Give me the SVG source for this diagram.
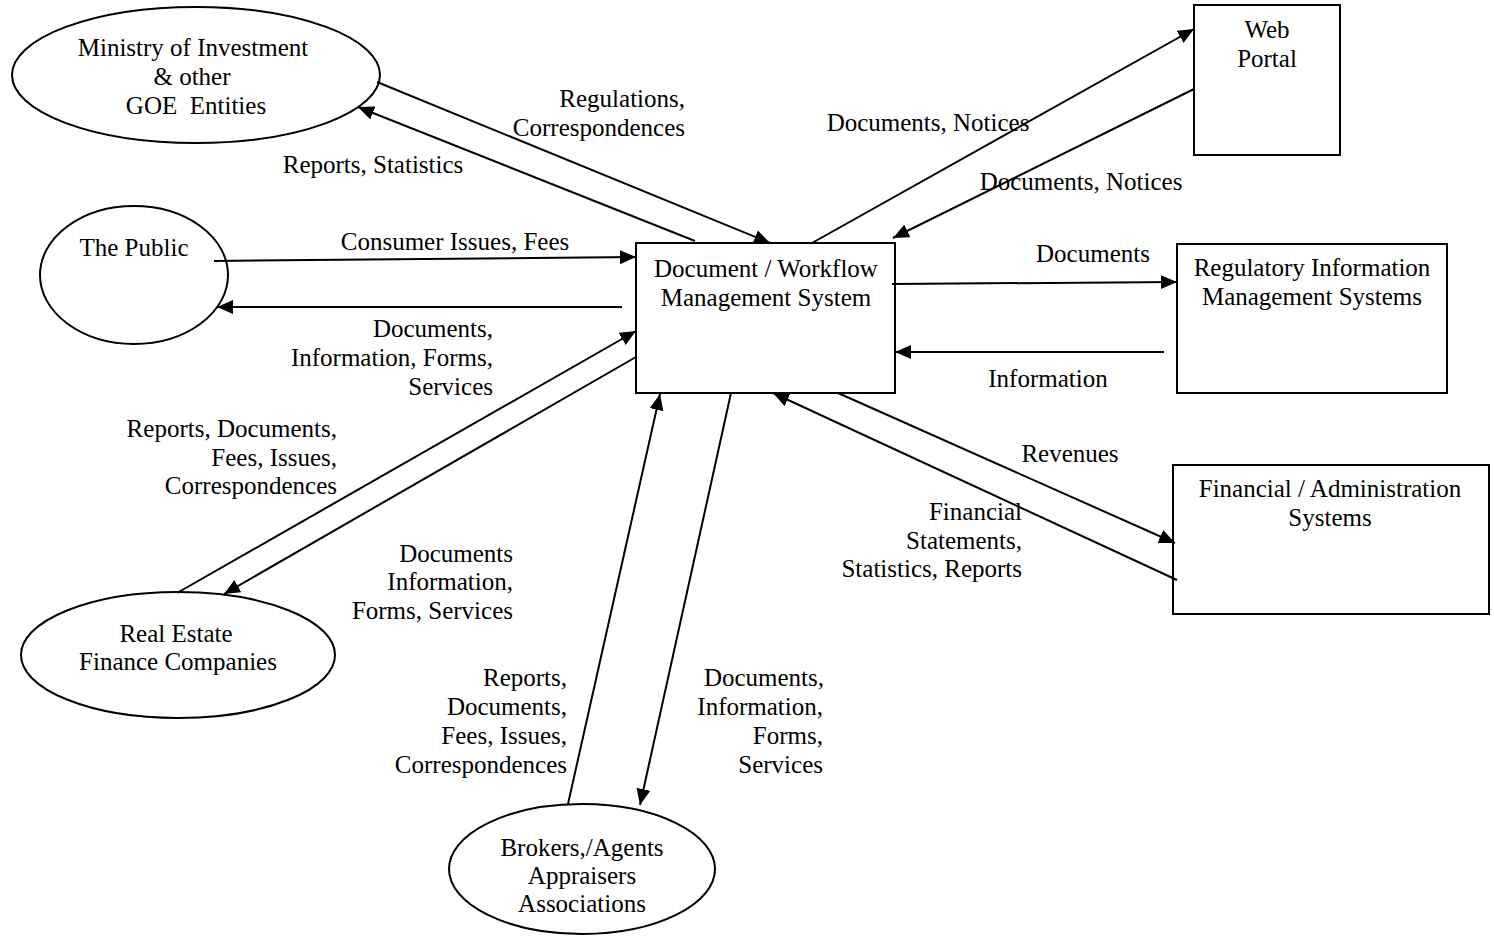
<svg xmlns="http://www.w3.org/2000/svg" width="1494" height="948" viewBox="0 0 1494 948">
  <style>
    .shape { fill: #ffffff; stroke: #000000; stroke-width: 2; }
    .flow { fill: none; stroke: #000000; stroke-width: 2; marker-end: url(#arrow); }
    text { font-family: "Liberation Serif", "Times New Roman", serif; font-size: 25px; fill: #000000; }
    .c { text-anchor: middle; }
    .r { text-anchor: end; }
  </style>
  <defs>
    <marker id="arrow" markerUnits="userSpaceOnUse" markerWidth="17" markerHeight="15" refX="16" refY="7" orient="auto">
      <path d="M0,0 L16,7 L0,14 Z" fill="#000000"/>
    </marker>
  </defs>
  <rect width="1494" height="948" fill="#ffffff"/>

  <!-- external entities and systems -->
  <g id="ministry">
    <ellipse class="shape" cx="196" cy="75" rx="184" ry="68"/>
    <text class="c" x="193" y="56">Ministry of Investment</text>
    <text class="c" x="192" y="85">&amp; other</text>
    <text class="c" x="196" y="114" xml:space="preserve">GOE  Entities</text>
  </g>
  <g id="public">
    <ellipse class="shape" cx="134" cy="275" rx="94" ry="69"/>
    <text class="c" x="134" y="256">The Public</text>
  </g>
  <g id="real-estate">
    <ellipse class="shape" cx="178" cy="655" rx="157" ry="63"/>
    <text class="c" x="176" y="642">Real Estate</text>
    <text class="c" x="178" y="670">Finance Companies</text>
  </g>
  <g id="brokers">
    <ellipse class="shape" cx="582" cy="869" rx="133" ry="65"/>
    <text class="c" x="582" y="856">Brokers,/Agents</text>
    <text class="c" x="582" y="884">Appraisers</text>
    <text class="c" x="582" y="912">Associations</text>
  </g>
  <g id="dwms">
    <rect class="shape" x="636" y="243" width="259" height="150"/>
    <text class="c" x="766" y="277">Document / Workflow</text>
    <text class="c" x="766" y="306">Management System</text>
  </g>
  <g id="web-portal">
    <rect class="shape" x="1194" y="5" width="146" height="150"/>
    <text class="c" x="1267" y="38">Web</text>
    <text class="c" x="1267" y="67">Portal</text>
  </g>
  <g id="rims">
    <rect class="shape" x="1177" y="244" width="270" height="149"/>
    <text class="c" x="1312" y="276">Regulatory Information</text>
    <text class="c" x="1312" y="305">Management Systems</text>
  </g>
  <g id="finance">
    <rect class="shape" x="1173" y="465" width="316" height="149"/>
    <text class="c" x="1330" y="497">Financial / Administration</text>
    <text class="c" x="1330" y="526">Systems</text>
  </g>

  <!-- data flows -->
  <g id="connectors">
    <line class="flow" x1="377" y1="82" x2="770" y2="243"/>
    <line class="flow" x1="695" y1="241" x2="358" y2="107"/>
    <line class="flow" x1="214" y1="261" x2="636" y2="257"/>
    <line class="flow" x1="622" y1="307" x2="217" y2="307"/>
    <line class="flow" x1="177" y1="593" x2="636" y2="331"/>
    <line class="flow" x1="636" y1="357" x2="224" y2="594"/>
    <line class="flow" x1="568" y1="804" x2="660" y2="394"/>
    <line class="flow" x1="731" y1="393" x2="640" y2="805"/>
    <line class="flow" x1="812" y1="243" x2="1194" y2="29"/>
    <line class="flow" x1="1194" y1="89" x2="893" y2="238"/>
    <line class="flow" x1="892" y1="284" x2="1177" y2="282"/>
    <line class="flow" x1="1164" y1="352" x2="895" y2="352"/>
    <line class="flow" x1="838" y1="393" x2="1175" y2="543"/>
    <line class="flow" x1="1177" y1="580" x2="773" y2="393"/>
  </g>

  <!-- flow labels -->
  <g id="labels">
    <text class="r" x="685" y="107">Regulations,</text>
    <text class="r" x="685" y="136">Correspondences</text>
    <text class="c" x="373" y="173">Reports, Statistics</text>
    <text class="c" x="455" y="250">Consumer Issues, Fees</text>
    <text class="r" x="493" y="337">Documents,</text>
    <text class="r" x="493" y="366">Information, Forms,</text>
    <text class="r" x="493" y="395">Services</text>
    <text class="r" x="337" y="437">Reports, Documents,</text>
    <text class="r" x="337" y="466">Fees, Issues,</text>
    <text class="r" x="337" y="494">Correspondences</text>
    <text class="r" x="513" y="562">Documents</text>
    <text class="r" x="513" y="590">Information,</text>
    <text class="r" x="513" y="619">Forms, Services</text>
    <text class="r" x="567" y="686">Reports,</text>
    <text class="r" x="567" y="715">Documents,</text>
    <text class="r" x="567" y="744">Fees, Issues,</text>
    <text class="r" x="567" y="773">Correspondences</text>
    <text class="r" x="824" y="686">Documents,</text>
    <text class="r" x="823" y="715">Information,</text>
    <text class="r" x="823" y="744">Forms,</text>
    <text class="r" x="823" y="773">Services</text>
    <text class="c" x="928" y="131">Documents, Notices</text>
    <text class="c" x="1081" y="190">Documents, Notices</text>
    <text class="c" x="1093" y="262">Documents</text>
    <text class="c" x="1048" y="387">Information</text>
    <text class="c" x="1070" y="462">Revenues</text>
    <text class="r" x="1022" y="520">Financial</text>
    <text class="r" x="1022" y="549">Statements,</text>
    <text class="r" x="1022" y="577">Statistics, Reports</text>
  </g>
</svg>
